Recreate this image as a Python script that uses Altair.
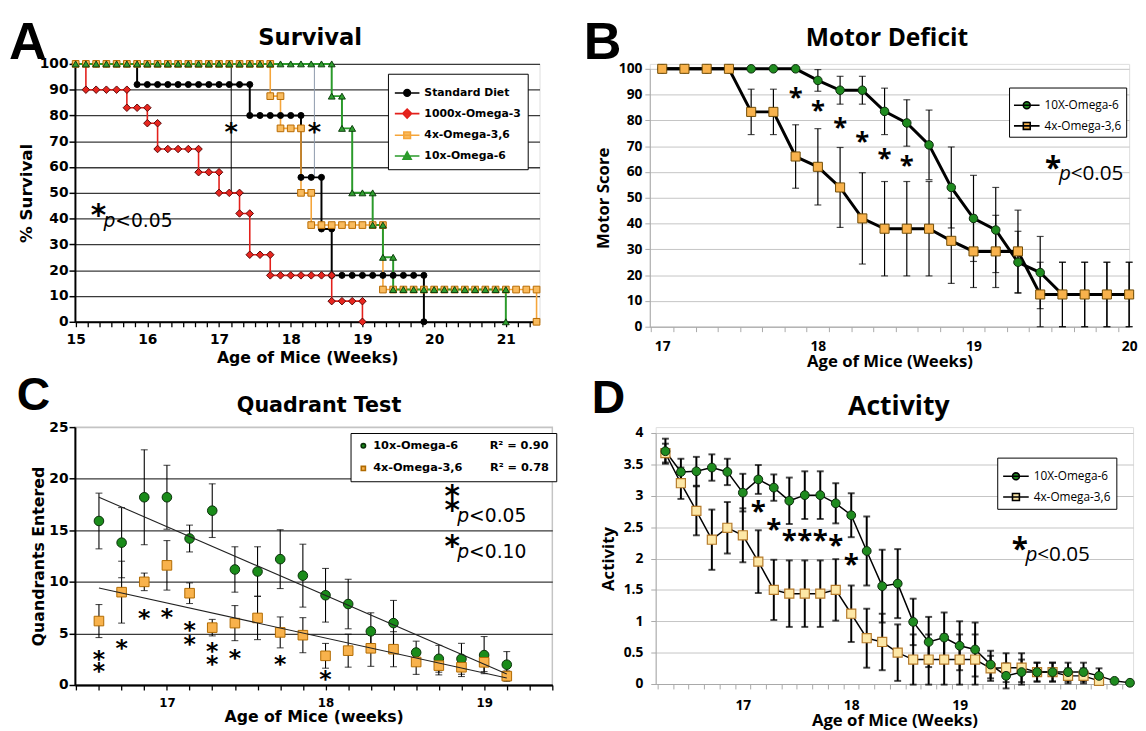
import altair as alt
import pandas as pd

NB = "\u00a0"
FA = "DejaVu Sans"      # panels A and C
FB = "Open Sans"        # panels B and D
FL = "Liberation Sans"  # panel letters

# ======================= DATA =======================
# ---- A: Survival (Kaplan-Meier steps, one observation per day) ----
A_names = ["Standard Diet", "1000x-Omega-3", "4x-Omega-3,6", "10x-Omega-6"]
A_first_week = 15
sd_days = [0, 6, 17, 22, 24, 25, 34]
sd_levels = [100, 92, 80, 56, 36, 18, 0]
o3_days = [0, 1, 5, 7, 8, 12, 14, 16, 17, 19, 25, 28]
o3_levels = [100, 90, 83, 77, 67, 58, 50, 42, 26, 18, 8, 0]
o36_days = [0, 19, 20, 22, 23, 30, 45]
o36_levels = [100, 87.5, 75, 50, 37.5, 12.5, 0]
o6_days = [0, 25, 26, 27, 29, 30, 31, 42]
o6_levels = [100, 87.5, 75, 50, 37.5, 25, 12.5, 0]
A_star_week = [17.17, 18.33]
A_star_val = [75, 75]
A_mark_top = [100, 100]
A_mark_bottom = [50, 56]
A_x_ticks = [round(15 + k / 6, 5) for k in range(0, 39)]

# ---- B: Motor deficit ----
B_names = ["10X-Omega-6", "4x-Omega-3,6"]
B_first_week = 17
B_green = [100, 100, 100, 100, 100, 100, 100, 95.5, 91.7, 91.7, 83.5, 79, 70.5, 54, 42, 37.5, 25, 21, 12.5, 12.5, 12.5, 12.5]
B_green_err = [0, 0, 0, 0, 0, 0, 0, 4.2, 5.4, 5.4, 9, 9, 13.5, 15.7, 16.7, 16.5, 12, 14, 12.5, 12.5, 12.5, 12.5]
B_orange = [100, 100, 100, 100, 83.3, 83.3, 66, 62, 54, 42, 38, 38, 38, 33.3, 29.2, 29.2, 29.2, 12.5, 12.5, 12.5, 12.5, 12.5]
B_orange_err = [0, 0, 0, 0, 8.8, 8.8, 12.3, 14.8, 15.5, 17.7, 18.3, 18.3, 18.3, 16.5, 14, 14, 16, 12.5, 12.5, 12.5, 12.5, 12.5]
B_star_index = [6, 7, 8, 9, 10, 11]
B_star_val = [89, 84, 77.4, 72, 65.3, 62.7]

# ---- C: Quadrant test ----
C_names = ["10x-Omega-6", "4x-Omega-3,6"]
C_r2 = ["0.90", "0.78"]
C_first_week = 16 + 4 / 7
C_green = [15.9, 13.8, 18.2, 18.2, 14.2, 16.9, 11.2, 11.0, 12.2, 10.6, 8.7, 7.85, 5.2, 6.0, 3.15, 2.54, 2.54, 2.9, 1.97]
C_green_err = [2.7, 3.4, 4.6, 3.1, 1.3, 2.6, 2.2, 2.4, 2.85, 3.05, 2.6, 2.4, 1.8, 2.2, 1.1, 1.3, 1.5, 1.8, 1.27]
C_orange = [6.2, 9.0, 10.0, 11.6, 8.9, 5.56, 6.0, 6.5, 5.1, 4.83, 2.83, 3.33, 3.56, 3.47, 2.23, 1.88, 1.72, 2.2, 0.86]
C_orange_err = [1.6, 3.0, 0.85, 2.4, 1.0, 0.8, 1.7, 2.1, 1.5, 1.7, 1.2, 1.6, 1.75, 1.7, 1.2, 0.9, 0.9, 0.9, 0.5]
C_star_index = [0, 0, 1, 2, 3, 4, 4, 5, 5, 6, 8, 10]
C_star_val = [2.83, 1.65, 3.88, 6.74, 6.9, 5.62, 4.29, 3.56, 2.29, 2.92, 2.29, 0.86]

# ---- D: Activity ----
D_names = ["10X-Omega-6", "4x-Omega-3,6"]
D_first_week = 17 - 5 / 7
D_green = [3.71, 3.38, 3.39, 3.45, 3.38, 3.05, 3.26, 3.13, 2.92, 3.01, 3.01, 2.88, 2.69, 2.12, 1.56, 1.6,
           0.99, 0.67, 0.74, 0.61, 0.55, 0.31, 0.13, 0.19, 0.19, 0.19, 0.19, 0.19, 0.13, 0.05, 0.02]
D_green_err = [0.2, 0.21, 0.23, 0.21, 0.21, 0.3, 0.23, 0.21, 0.37, 0.38, 0.38, 0.32, 0.35, 0.55, 0.58, 0.55,
               0.37, 0.4, 0.4, 0.39, 0.43, 0.22, 0.2, 0.2, 0.15, 0.15, 0.15, 0.15, 0.12, 0, 0]
D_orange = [3.68, 3.2, 2.76, 2.3, 2.49, 2.37, 1.95, 1.5, 1.44, 1.44, 1.44, 1.5, 1.12, 0.73, 0.67, 0.5,
            0.39, 0.39, 0.39, 0.39, 0.39, 0.25, 0.26, 0.26, 0.19, 0.19, 0.13, 0.13, 0.05]
D_orange_err = [0.15, 0.25, 0.39, 0.48, 0.41, 0.43, 0.5, 0.48, 0.53, 0.53, 0.53, 0.49, 0.45, 0.47, 0.45, 0.45,
                0.4, 0.4, 0.4, 0.4, 0.4, 0.2, 0.23, 0.23, 0.15, 0.15, 0.12, 0.12, 0.05]
D_star_index = [6, 7, 8, 9, 10, 11, 12]
D_star_val = [2.74, 2.45, 2.27, 2.27, 2.27, 2.19, 1.9]

INT_LABEL = "abs(datum.value - round(datum.value)) < 0.001 ? format(round(datum.value), 'd') : ''"


# ======================= HELPERS =======================
def km_rows(name, days, levels):
    rows, seq = [], 0
    for k in range(len(days) - 1):
        for d in range(days[k], days[k + 1] + 1):
            rows.append(dict(series=name, seq=seq, week=A_first_week + d / 7, val=levels[k]))
            seq += 1
    rows.append(dict(series=name, seq=seq, week=A_first_week + days[-1] / 7, val=levels[-1]))
    return rows


def series_df(name, first_week, vals, errs):
    return pd.DataFrame({
        "series": name,
        "seq": list(range(len(vals))),
        "week": [first_week + i / 7 for i in range(len(vals))],
        "val": vals,
        "err": errs,
        "lo": [v - e for v, e in zip(vals, errs)],
        "hi": [v + e for v, e in zip(vals, errs)],
    })


def caps_df(df):
    d = df[df["err"] > 0]
    a = pd.DataFrame({"week": d["week"], "val": d["lo"]})
    b = pd.DataFrame({"week": d["week"], "val": d["hi"]})
    return pd.concat([a, b], ignore_index=True)


def label_text(txt, x, y, font, size, align="left"):
    return alt.Chart(pd.DataFrame({"t": [txt]})).mark_text(
        text=txt, font=font, fontSize=size, fontWeight="bold", align=align, baseline="alphabetic", color="black"
    ).encode(x=alt.value(x), y=alt.value(y))


def stars(weeks, vals, X, Y, font, size, dy, align="center"):
    return alt.Chart(pd.DataFrame({"week": weeks, "val": vals})).mark_text(
        text="*", font=font, fontSize=size, fontWeight="bold", align=align, baseline="middle", dy=dy, color="black"
    ).encode(x=X, y=Y)


def pnote(week, val, rest, X, Y, font, star_size, p_size, star_dy, p_dx, rest_dx, text_dy=2):
    base = alt.Chart(pd.DataFrame({"week": [week], "val": [val]}))
    s = base.mark_text(text="*", font=font, fontSize=star_size, fontWeight="bold", align="left",
                       baseline="middle", dy=star_dy, color="black").encode(x=X, y=Y)
    p = base.mark_text(text="p", font=font, fontSize=p_size, fontStyle="italic", align="left",
                       baseline="middle", dx=p_dx, dy=text_dy, color="black").encode(x=X, y=Y)
    r = base.mark_text(text=rest, font=font, fontSize=p_size, align="left",
                       baseline="middle", dx=rest_dx, dy=text_dy, color="black").encode(x=X, y=Y)
    return [s, p, r]


def legend_layer(names, paths, fills, strokes, font, size, weight, lx, ly, sym, rowpad, pad, label_expr=None):
    kw = dict(title=None, orient="none", legendX=lx, legendY=ly, direction="vertical",
              strokeColor="black", fillColor="white", padding=pad, rowPadding=rowpad,
              labelFont=font, labelFontSize=size, labelFontWeight=weight, labelColor="black",
              symbolSize=sym, symbolStrokeWidth=1.6, labelOffset=4, labelLimit=400)
    if label_expr is not None:
        kw["labelExpr"] = label_expr
    leg = alt.Legend(**kw)
    return alt.Chart(pd.DataFrame({"series": names})).transform_filter("false").mark_point(
        opacity=1, filled=False
    ).encode(
        shape=alt.Shape("series:N", scale=alt.Scale(domain=names, range=paths), legend=leg),
        fill=alt.Fill("series:N", scale=alt.Scale(domain=names, range=fills), legend=leg),
        stroke=alt.Stroke("series:N", scale=alt.Scale(domain=names, range=strokes), legend=leg),
    )


CIRC = "M-1,0H1M0.27,0A0.27,0.27,0,1,1,-0.27,0A0.27,0.27,0,1,1,0.27,0Z"
DIAM = "M-1,0H1M0,-0.36L0.36,0L0,0.36L-0.36,0Z"
SQR = "M-1,0H1M-0.27,-0.27H0.27V0.27H-0.27Z"
TRI = "M-1,0H1M0,-0.33L0.33,0.27H-0.33Z"
CIRC_ONLY = "M0.45,0A0.45,0.45,0,1,1,-0.45,0A0.45,0.45,0,1,1,0.45,0Z"
SQR_ONLY = "M-0.42,-0.42H0.42V0.42H-0.42Z"

# ======================= PANEL A =======================
A_line_colors = ["#000000", "#e3201b", "#f5a53a", "#2a9a2a"]
A_fill_colors = ["#000000", "#e8261f", "#f9bb5e", "#2f9f2f"]
A_edge_colors = ["#000000", "#5a0808", "#b86a00", "#0d3f0d"]
A_shapes = ["circle", "diamond", "square", "triangle-up"]
A_sizes = [38, 58, 46, 48]
A_line_w = [2.0, 1.6, 1.6, 2.0]

A_steps = [(sd_days, sd_levels), (o3_days, o3_levels), (o36_days, o36_levels), (o6_days, o6_levels)]
dfA = pd.DataFrame(sum([km_rows(n, d, l) for n, (d, l) in zip(A_names, A_steps)], []))

WA, HA = 472, 262
sxA = alt.Scale(domain=[14.99, 21.47], nice=False, zero=False)
axA = alt.Axis(values=A_x_ticks, labelExpr=INT_LABEL, title="Age of Mice (Weeks)", grid=False,
               labelFont=FA, labelFontSize=14, labelFontWeight="bold", labelColor="black",
               titleFont=FA, titleFontSize=16, titleFontWeight="bold", titleColor="black",
               domainColor="black", domainWidth=2, tickColor="black", tickWidth=1.3, tickSize=5,
               labelPadding=6, titlePadding=3, labelFlush=False, labelOverlap=False)
syA = alt.Scale(domain=[0, 100], nice=False)
ayA = alt.Axis(values=list(range(0, 101, 10)), title="% Survival",
               labelFont=FA, labelFontSize=14, labelFontWeight="bold", labelColor="black",
               titleFont=FA, titleFontSize=17, titleFontWeight="bold", titleColor="black",
               domainColor="black", domainWidth=2, tickColor="black", tickWidth=1.5, tickSize=6,
               gridColor="#3a3a3a", gridWidth=1.3, labelPadding=1, titlePadding=4)
XA = alt.X("week:Q", scale=sxA, axis=axA)
YA = alt.Y("val:Q", scale=syA, axis=ayA)

A_layers = []
dfAm = pd.DataFrame({"week": A_star_week, "val": A_mark_top, "lo": A_mark_bottom})
A_layers.append(alt.Chart(dfAm.iloc[[0]]).mark_rule(color="#000000", strokeWidth=1).encode(
    x=XA, y=YA, y2=alt.Y2("lo:Q")))
A_layers.append(alt.Chart(dfAm.iloc[[1]]).mark_rule(color="#8c98aa", strokeWidth=1).encode(
    x=XA, y=YA, y2=alt.Y2("lo:Q")))
for i, n in enumerate(A_names):
    A_layers.append(alt.Chart(dfA).transform_filter(alt.datum.series == n).mark_line(
        color=A_line_colors[i], strokeWidth=A_line_w[i]).encode(x=XA, y=YA, order=alt.Order("seq:Q")))
for i, n in enumerate(A_names):
    A_layers.append(alt.Chart(dfA).transform_filter(alt.datum.series == n).mark_point(
        shape=A_shapes[i], filled=True, fill=A_fill_colors[i], stroke=A_edge_colors[i], strokeWidth=1,
        size=A_sizes[i], opacity=1).encode(x=XA, y=YA))
A_layers.append(stars(A_star_week, A_star_val, XA, YA, FA, 26, 4))
A_layers += pnote(15.21, 40, "<0.05", XA, YA, FA, 30, 19, -3, 13, 25)
A_layers.append(legend_layer(A_names, [CIRC, DIAM, SQR, TRI], A_fill_colors, A_line_colors,
                             FA, 11, "bold", 318, 10, 625, 0, 6))
A_layers.append(label_text("A", -67, -5, FL, 53))
A_layers.append(label_text("Survival", WA / 2 + 3, -19, FA, 23, "center"))
panelA = alt.layer(*A_layers).properties(width=WA, height=HA)

# ======================= PANEL B =======================
# (plot drawn 5 px below the row top, as in the figure)
dfBg = series_df(B_names[0], B_first_week, B_green, B_green_err)
dfBo = series_df(B_names[1], B_first_week, B_orange, B_orange_err)
B_ticks = [round(17 + k / 7, 5) for k in range(0, 22)]
WB, HB, B_top = 487, 267, 5
sxB = alt.Scale(domain=[16.92, 20.0], nice=False, zero=False)
axB = alt.Axis(values=B_ticks, labelExpr=INT_LABEL, title="Age of Mice (Weeks)", grid=False,
               labelFont=FB, labelFontSize=14, labelFontWeight="bold", labelColor="black",
               titleFont=FB, titleFontSize=17, titleFontWeight="bold", titleColor="black",
               domainColor="#a8a8a8", tickColor="#a8a8a8", tickSize=5, tickOffset=-11.3,
               labelOffset=11.3, labelPadding=8, titlePadding=0, labelFlush=False, labelOverlap=False)
syB = alt.Scale(domain=[0, 100], nice=False, range=[HB, B_top])
ayB = alt.Axis(values=list(range(0, 101, 10)), title="Motor Score",
               labelFont=FB, labelFontSize=14, labelFontWeight="bold", labelColor="black",
               titleFont=FB, titleFontSize=17, titleFontWeight="bold", titleColor="black",
               domainColor="#a8a8a8", tickColor="#a8a8a8", tickSize=5,
               gridColor="#c4c4c4", gridWidth=1, labelPadding=3, titlePadding=6)
XB = alt.X("week:Q", scale=sxB, axis=axB)
YB = alt.Y("val:Q", scale=syB, axis=ayB)
B_layers = []
for df in (dfBg, dfBo):
    de = df[df["err"] > 0]
    B_layers.append(alt.Chart(de).mark_rule(color="black", strokeWidth=1.2).encode(
        x=XB, y=alt.Y("lo:Q", scale=syB, axis=ayB), y2=alt.Y2("hi:Q")))
    B_layers.append(alt.Chart(caps_df(df)).mark_tick(orient="horizontal", color="black", thickness=1.2, size=7).encode(
        x=XB, y=YB))
for df in (dfBg, dfBo):
    B_layers.append(alt.Chart(df).mark_line(color="black", strokeWidth=3).encode(x=XB, y=YB, order=alt.Order("seq:Q")))
B_layers.append(alt.Chart(dfBg).mark_point(shape="circle", filled=True, fill="#1f8b1f", stroke="#0a2a0a",
                                            strokeWidth=1, size=75, opacity=1).encode(x=XB, y=YB))
B_layers.append(alt.Chart(dfBo).mark_point(shape="square", filled=True, fill="#f8b24c", stroke="#6e4a05",
                                            strokeWidth=1, size=85, opacity=1).encode(x=XB, y=YB))
B_layers.append(stars([B_first_week + i / 7 for i in B_star_index], B_star_val, XB, YB, FB, 26, 1))
B_layers += pnote(19.46, 60, "<0.05", XB, YB, FB, 30, 21, -3, 14, 26)
B_layers.append(legend_layer(B_names, [CIRC, SQR], ["#1f8b1f", "#f8b24c"], ["#000000", "#000000"],
                             FB, 12, "normal", 365, 19 + B_top, 676, 0, 4))
B_layers.append(label_text("B", -67, -5, FL, 53))
B_layers.append(label_text("Motor Deficit", 241, -18, FB, 25, "center"))
panelB = alt.layer(*B_layers).properties(width=WB, height=HB)

# ======================= PANEL C =======================
dfCg = series_df(C_names[0], C_first_week, C_green, C_green_err)
dfCo = series_df(C_names[1], C_first_week, C_orange, C_orange_err)
C_ticks = [round(C_first_week - 1 / 7 + k / 7, 5) for k in range(0, 22)]
WC, HC = 485, 262
sxC = alt.Scale(domain=[16.42, 19.43], nice=False, zero=False)
axC = alt.Axis(values=C_ticks, labelExpr=INT_LABEL, title="Age of Mice (weeks)", grid=False,
               labelFont=FA, labelFontSize=12, labelFontWeight="bold", labelColor="black",
               titleFont=FA, titleFontSize=16, titleFontWeight="bold", titleColor="black",
               domainColor="black", domainWidth=2, tickColor="black", tickWidth=1.3, tickSize=5,
               labelPadding=8, titlePadding=0, labelFlush=False, labelOverlap=False)
syC = alt.Scale(domain=[0, 25], nice=False)
ayC = alt.Axis(values=[0, 5, 10, 15, 20, 25], title="Quandrants Entered",
               labelFont=FA, labelFontSize=14, labelFontWeight="bold", labelColor="black",
               titleFont=FA, titleFontSize=16, titleFontWeight="bold", titleColor="black",
               domainColor="black", domainWidth=2, tickColor="black", tickWidth=1.5, tickSize=6,
               gridColor={"condition": {"test": "datum.value === 25", "value": "#c4c4c4"},
                          "value": "#3a3a3a"},
               gridWidth=1.3, labelPadding=1, titlePadding=2)
XC = alt.X("week:Q", scale=sxC, axis=axC)
YC = alt.Y("val:Q", scale=syC, axis=ayC)
C_layers = []
for df in (dfCg, dfCo):
    C_layers.append(alt.Chart(df).mark_rule(color="black", strokeWidth=1.1).encode(
        x=XC, y=alt.Y("lo:Q", scale=syC, axis=ayC), y2=alt.Y2("hi:Q")))
    C_layers.append(alt.Chart(caps_df(df)).mark_tick(orient="horizontal", color="black", thickness=1.1, size=7).encode(
        x=XC, y=YC))
C_layers.append(alt.Chart(dfCg).mark_point(shape="circle", filled=True, fill="#1a8c1a", stroke="#0a300a",
                                            strokeWidth=1, size=95, opacity=1).encode(x=XC, y=YC))
C_layers.append(alt.Chart(dfCo).mark_point(shape="square", filled=True, fill="#f8b24c", stroke="#b06a00",
                                            strokeWidth=1, size=95, opacity=1).encode(x=XC, y=YC))
C_layers.append(alt.Chart(pd.concat([dfCg, dfCo])).transform_regression(
    "week", "val", groupby=["series"]).mark_line(color="#222222", strokeWidth=1.1).encode(
    x=XC, y=YC, detail="series:N"))
C_layers.append(stars([C_first_week + i / 7 for i in C_star_index], C_star_val, XC, YC, FA, 24, 4))
C_layers += pnote(18.75, 16.6, "<0.05", XC, YC, FA, 30, 19, -3, 13, 25)
C_layers.append(stars([18.75], [17.95], XC, YC, FA, 30, -3, "left"))
C_layers += pnote(18.75, 13.1, "<0.10", XC, YC, FA, 30, 19, -3, 13, 25)
C_label_expr = (f"datum.label == '{C_names[0]}' ? '{C_names[0]}{NB * 8}R² = {C_r2[0]}' : "
                f"'{C_names[1]}{NB * 7}R² = {C_r2[1]}'")
C_layers.append(legend_layer(C_names, [CIRC_ONLY, SQR_ONLY], ["#1a8c1a", "#f8b24c"], ["#0a300a", "#b06a00"],
                             FA, 11.5, "bold", 280, 6, 100, 11, 7, C_label_expr))
C_layers.append(label_text("C", -59, -17, FL, 47))
C_layers.append(label_text("Quadrant Test", 248, -15, FA, 21, "center"))
panelC = alt.layer(*C_layers).properties(
    width=WC, height=HC, view=alt.ViewBackground(stroke="#c4c4c4", strokeWidth=1.5))

# ======================= PANEL D =======================
# (plot drawn 6 px below the row top, as in the figure)
dfDg = series_df(D_names[0], D_first_week, D_green, D_green_err)
dfDo = series_df(D_names[1], D_first_week, D_orange, D_orange_err)
D_ticks = [round(D_first_week + k / 7, 5) for k in range(0, 31)]
WD, HD, D_top = 485, 261, 6
sxD = alt.Scale(domain=[16.196, 20.6], nice=False, zero=False)
axD = alt.Axis(values=D_ticks, labelExpr=INT_LABEL, title="Age of Mice (Weeks)", grid=False,
               labelFont=FB, labelFontSize=14, labelFontWeight="bold", labelColor="black",
               titleFont=FB, titleFontSize=17, titleFontWeight="bold", titleColor="black",
               domainColor="#a8a8a8", tickColor="#a8a8a8", tickSize=5, tickOffset=-8,
               labelOffset=8, labelPadding=10, titlePadding=0, labelFlush=False, labelOverlap=False)
syD = alt.Scale(domain=[0, 4], nice=False, range=[HD, D_top])
ayD = alt.Axis(values=[0, 0.5, 1, 1.5, 2, 2.5, 3, 3.5, 4], format="~g", title="Activity",
               labelFont=FB, labelFontSize=14, labelFontWeight="bold", labelColor="black",
               titleFont=FB, titleFontSize=17, titleFontWeight="bold", titleColor="black",
               domainColor="#a8a8a8", tickColor="#a8a8a8", tickSize=5,
               gridColor="#c4c4c4", gridWidth=1, labelPadding=8, titlePadding=6)
XD = alt.X("week:Q", scale=sxD, axis=axD)
YD = alt.Y("val:Q", scale=syD, axis=ayD)
D_layers = []
for df in (dfDo, dfDg):
    de = df[df["err"] > 0]
    D_layers.append(alt.Chart(de).mark_rule(color="black", strokeWidth=2).encode(
        x=XD, y=alt.Y("lo:Q", scale=syD, axis=ayD), y2=alt.Y2("hi:Q")))
    D_layers.append(alt.Chart(caps_df(df)).mark_tick(orient="horizontal", color="black", thickness=2, size=7).encode(
        x=XD, y=YD))
for df in (dfDo, dfDg):
    D_layers.append(alt.Chart(df).mark_line(color="black", strokeWidth=1.5).encode(x=XD, y=YD, order=alt.Order("seq:Q")))
D_layers.append(alt.Chart(dfDo).mark_point(shape="square", filled=True, fill="#fde7a6", stroke="#b57a2a",
                                            strokeWidth=1.2, size=85, opacity=1).encode(x=XD, y=YD))
D_layers.append(alt.Chart(dfDg).mark_point(shape="circle", filled=True, fill="#1f8b1f", stroke="#0a2a0a",
                                            strokeWidth=1, size=80, opacity=1).encode(x=XD, y=YD))
D_layers.append(stars([D_first_week + i / 7 for i in D_star_index], D_star_val, XD, YD, FB, 28, 1))
D_layers += pnote(19.48, 2.09, "<0.05", XD, YD, FB, 30, 21, -3, 14, 26)
D_layers.append(legend_layer(D_names, [CIRC, SQR], ["#1f8b1f", "#fde7a6"], ["#000000", "#000000"],
                             FB, 12, "normal", 347, 25 + D_top, 676, 0, 5))
D_layers.append(label_text("D", -65, -14, FL, 47))
D_layers.append(label_text("Activity", 247, -12, FB, 27, "center"))
panelD = alt.layer(*D_layers).properties(width=WD, height=HD)

RES = dict(shape="independent", fill="independent", stroke="independent", x="independent", y="independent")
row1 = alt.hconcat(panelA, panelB, spacing=41).resolve_scale(**RES)
row2 = alt.hconcat(panelC, panelD, spacing=33).resolve_scale(**RES)
chart = alt.vconcat(row1, row2, spacing=2).resolve_scale(**RES).properties(
    padding={"left": 0, "top": 3, "right": 0, "bottom": 0}
).configure_view(stroke=None).configure(background="white")

chart.save("out.html", embed_options={"renderer": "svg", "actions": False})
